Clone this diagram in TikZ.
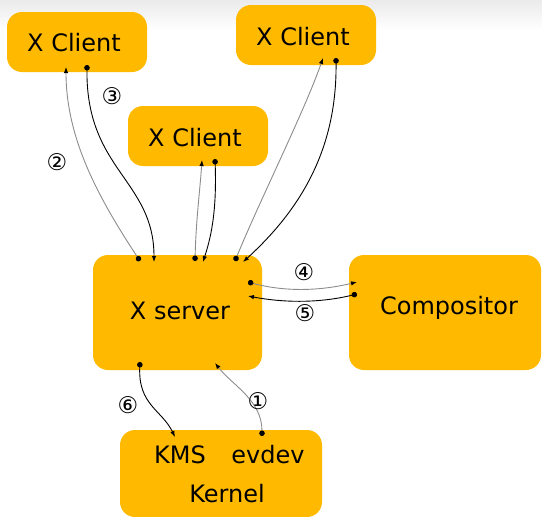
\documentclass[tikz,border=0pt]{standalone}
\usepackage{fontspec}
\setmainfont{DejaVu Sans}
\usetikzlibrary{arrows.meta}
\definecolor{boxc}{RGB}{255,186,0}
\begin{document}
\begin{tikzpicture}[x=1pt,y=-1pt,
  box/.style={fill=boxc,rounded corners=15pt,inner sep=0pt,font=\fontsize{24}{28}\selectfont},
  txt/.style={inner sep=0pt,font=\fontsize{24}{28}\selectfont},
  num/.style={inner sep=0pt,font=\fontsize{23}{26}\selectfont},
  blk/.style={black,line width=0.9pt,{Circle[length=5.5pt]}-{Latex[length=6pt,width=4.5pt]}},
  gry/.style={black!45,line width=0.9pt,{Circle[length=5.5pt,black]}-{Latex[length=6pt,width=4.5pt,black]}}]
\useasboundingbox (0,0) rectangle (542,517);
\shade[top color=black!8,bottom color=white] (0,0) rectangle (542,30);
% boxes
\node[box,minimum width=140pt,minimum height=60pt] (c1) at (77,42) {};
\node[txt] (c1t) at (74,43) {X Client};
\node[box,minimum width=140pt,minimum height=60pt] (c2) at (306,35) {};
\node[txt] (c2t) at (303,37) {X Client};
\node[box,minimum width=140pt,minimum height=60pt] (c3) at (198,136) {};
\node[txt] (c3t) at (195,138) {X Client};
\node[box,minimum width=169pt,minimum height=115pt] (xs) at (177.5,312.5) {};
\node[txt] (xst) at (180,311) {X server};
\node[box,minimum width=192pt,minimum height=115pt] (co) at (445,312.5) {};
\node[txt] (cot) at (449,308) {Compositor};
\node[box,minimum width=202pt,minimum height=87pt] (ke) at (221,473.5) {};
\node[txt] (kms) at (180,455) {KMS};
\node[txt] (evd) at (268,455) {evdev};
\node[txt] (ker) at (227,494) {Kernel};
% connector endpoints
\coordinate (s1) at (140,261);
\coordinate (s2) at (154,262);
\coordinate (s3) at (195,261);
\coordinate (s4) at (203,262);
\coordinate (s5) at (235,261);
\coordinate (s6) at (243,262);
\coordinate (s7) at (248,282);
\coordinate (s8) at (248,296);
\coordinate (s9) at (140,362);
\coordinate (s10) at (215,363);
\coordinate (a1) at (66,67);
\coordinate (a2) at (87,65);
\coordinate (b1) at (202,160);
\coordinate (b2) at (215,159);
\coordinate (d1) at (323,58);
\coordinate (d2) at (336,58);
\coordinate (p1) at (357,282);
\coordinate (p2) at (357,294);
\coordinate (k1) at (175,437);
\coordinate (k2) at (262,436);
% connectors
\draw[gry] (s1) .. controls (100,200) and (66,140) .. (a1);
\draw[blk] (a2) .. controls (86,170) and (154,180) .. (s2);
\draw[gry] (s3) .. controls (196,220) and (200,190) .. (b1);
\draw[blk] (b2) .. controls (217,215) and (210,240) .. (s4);
\draw[gry] (s5) .. controls (260,200) and (305,110) .. (d1);
\draw[blk] (d2) .. controls (337,150) and (300,210) .. (s6);
\draw[gry] (s7) .. controls (285,292) and (320,291) .. (p1);
\draw[blk] (p2) .. controls (320,303) and (285,303) .. (s8);
\draw[blk] (s9) .. controls (138,405) and (162,410) .. (k1);
\draw[gry] (k2) .. controls (262,400) and (232,385) .. (s10);
% labels
\node[num] (n3) at (112,96) {③};
\node[num] (n2) at (57,162) {②};
\node[num] (n4) at (304,272) {④};
\node[num] (n5) at (305,313) {⑤};
\node[num] (n6) at (128,405) {⑥};
\node[num] (n1) at (258,401) {①};
\end{tikzpicture}
\end{document}
